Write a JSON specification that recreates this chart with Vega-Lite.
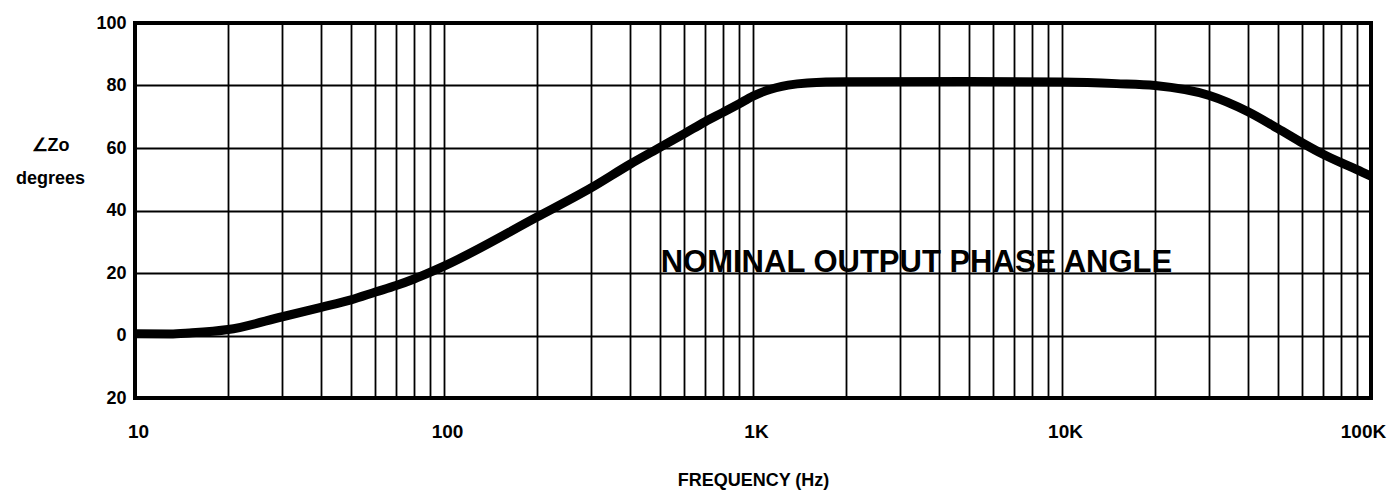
{
  "$schema": "https://vega.github.io/schema/vega-lite/v6.json",
  "autosize": {"type": "none"},
  "padding": {"left": 135, "top": 23, "right": 20, "bottom": 97},
  "width": 1236,
  "height": 375,
  "background": "white",
  "config": {
    "view": {"stroke": "black", "strokeWidth": 4},
    "font": "Liberation Sans"
  },
  "datasets": {
    "curve": [
      {"freq": 10, "angle": 0.6},
      {"freq": 13, "angle": 0.5},
      {"freq": 15, "angle": 0.8},
      {"freq": 20, "angle": 1.9},
      {"freq": 30, "angle": 6.0},
      {"freq": 40, "angle": 9.0},
      {"freq": 50, "angle": 11.4},
      {"freq": 60, "angle": 13.9},
      {"freq": 70, "angle": 16.0},
      {"freq": 80, "angle": 18.1},
      {"freq": 90, "angle": 20.2},
      {"freq": 100, "angle": 22.2},
      {"freq": 200, "angle": 37.9},
      {"freq": 300, "angle": 47.3},
      {"freq": 400, "angle": 54.8},
      {"freq": 500, "angle": 60.2},
      {"freq": 600, "angle": 64.6},
      {"freq": 700, "angle": 68.4},
      {"freq": 800, "angle": 71.4},
      {"freq": 900, "angle": 74.1},
      {"freq": 1000, "angle": 76.6},
      {"freq": 1100, "angle": 78.3},
      {"freq": 1300, "angle": 80.1},
      {"freq": 1500, "angle": 80.8},
      {"freq": 2000, "angle": 81.2},
      {"freq": 5000, "angle": 81.3},
      {"freq": 10000, "angle": 81.1},
      {"freq": 15000, "angle": 80.6},
      {"freq": 20000, "angle": 80.0},
      {"freq": 30000, "angle": 76.8},
      {"freq": 40000, "angle": 71.6},
      {"freq": 50000, "angle": 66.2},
      {"freq": 60000, "angle": 61.6},
      {"freq": 70000, "angle": 58.0},
      {"freq": 80000, "angle": 55.3},
      {"freq": 90000, "angle": 53.1},
      {"freq": 100000, "angle": 51.0}
    ],
    "note": [
      {"freq": 3380, "angle": 20.3, "text": "NOMINAL OUTPUT PHASE ANGLE"}
    ]
  },
  "layer": [
    {
      "data": {"name": "curve"},
      "mark": {"type": "line", "color": "black", "strokeWidth": 9, "interpolate": "monotone", "strokeCap": "butt", "clip": true},
      "encoding": {
        "x": {
          "field": "freq",
          "type": "quantitative",
          "scale": {"type": "log", "domain": [10, 100000], "nice": false},
          "axis": {
            "values": [10,20,30,40,50,60,70,80,90,100,200,300,400,500,600,700,800,900,1000,2000,3000,4000,5000,6000,7000,8000,9000,10000,20000,30000,40000,50000,60000,70000,80000,90000,100000],
            "labelExpr": "datum.value==10?'10':datum.value==100?'100':datum.value==1000?'1K':datum.value==10000?'10K':datum.value==100000?'100K':''",
            "labelOffset": {"condition": {"test": "datum.value == 100000", "value": -8}, "value": 3},
            "labelOverlap": false,
            "labelFlush": false,
            "labelFont": "Liberation Sans",
            "labelFontWeight": "bold",
            "labelFontSize": 19,
            "labelColor": "black",
            "labelPadding": 24,
            "ticks": false,
            "domain": false,
            "grid": true,
            "gridColor": "black",
            "gridWidth": 1.8,
            "gridOpacity": 1,
            "title": "FREQUENCY (Hz)",
            "titleFont": "Liberation Sans",
            "titleFontWeight": "bold",
            "titleFontSize": 18,
            "titleColor": "black",
            "titlePadding": 30
          }
        },
        "y": {
          "field": "angle",
          "type": "quantitative",
          "scale": {"domain": [-20, 100], "nice": false, "zero": false},
          "axis": {
            "values": [-20, 0, 20, 40, 60, 80, 100],
            "labelExpr": "datum.value < 0 ? '' + abs(datum.value) : datum.label",
            "labelFont": "Liberation Sans",
            "labelFontWeight": "bold",
            "labelFontSize": 18,
            "labelColor": "black",
            "labelPadding": 9,
            "ticks": false,
            "domain": false,
            "grid": true,
            "gridColor": "black",
            "gridWidth": 1.8,
            "gridOpacity": 1,
            "title": ["∠Zo", "degrees"],
            "titleFont": "Liberation Sans",
            "titleFontWeight": "bold",
            "titleFontSize": 18,
            "titleColor": "black",
            "titleAngle": 0,
            "titleAlign": "center",
            "titleBaseline": "alphabetic",
            "titleX": -85,
            "titleY": 127,
            "titleLineHeight": 33
          }
        }
      }
    },
    {
      "data": {"name": "note"},
      "mark": {"type": "text", "font": "Liberation Sans", "fontWeight": "bold", "fontSize": 31, "color": "black", "align": "center", "baseline": "alphabetic"},
      "encoding": {
        "x": {"field": "freq", "type": "quantitative"},
        "y": {"field": "angle", "type": "quantitative"},
        "text": {"field": "text", "type": "nominal"}
      }
    }
  ]
}
